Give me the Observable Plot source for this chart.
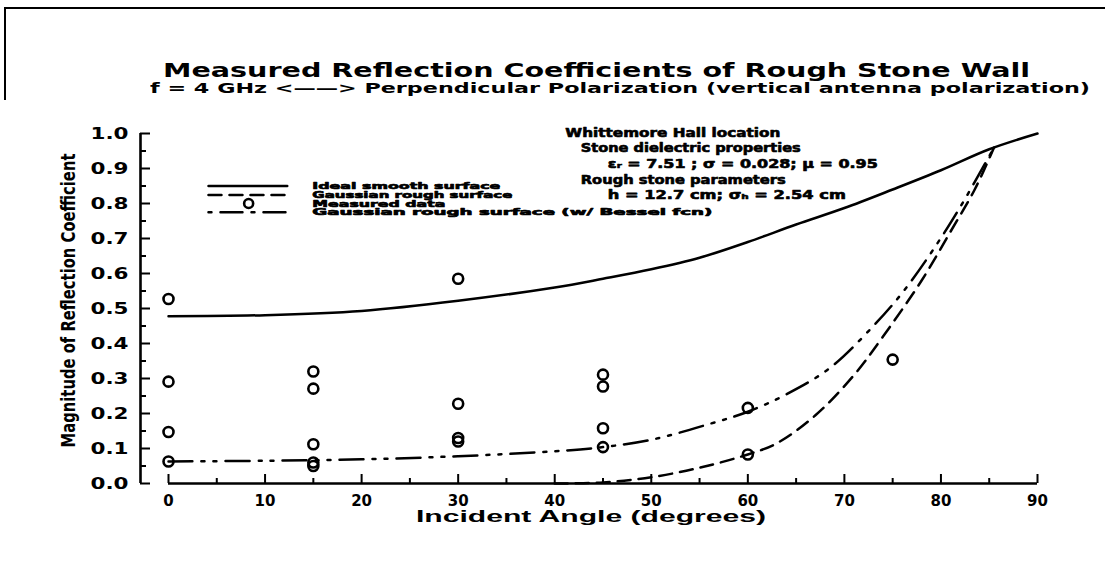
<!DOCTYPE html>
<html><head><meta charset="utf-8">
<script src="https://cdn.jsdelivr.net/npm/d3@7"></script>
<script src="https://cdn.jsdelivr.net/npm/@observablehq/plot@0.6"></script>
<style>
body{margin:0;background:#fff;}
#wrap{position:relative;width:1105px;height:563px;overflow:hidden;background:#fff;}
#frame{position:absolute;left:4px;top:7px;width:1200px;height:600px;border-left:2.5px solid #000;border-top:2.5px solid #000;}
#foot{position:absolute;left:0;top:559px;width:1105px;height:0;border-top:1px dashed #b0b0b0;}
.t{position:absolute;white-space:nowrap;font-family:"DejaVu Sans",sans-serif;font-weight:bold;color:#000;line-height:1;transform-origin:0 50%;}
#title{top:60px;font-size:20px;}
#subtitle{top:81px;font-size:14px;}
#chart{position:absolute;left:0;top:100px;}
</style></head>
<body><div id="wrap"><div id="frame"></div><div id="foot"></div>
<div id="title" class="t">Measured Reflection Coefficients of Rough Stone Wall</div>
<div id="subtitle" class="t">f = 4 GHz &lt;——&gt; Perpendicular Polarization (vertical antenna polarization)</div>
<div id="chart"></div></div>
<script>
// ---- data ----
const solidAngle = [0, 10, 20, 30, 40, 45, 50, 55, 60, 65, 70, 75, 80, 85, 90];
const solidValue = [0.478, 0.481, 0.493, 0.522, 0.56, 0.585, 0.612, 0.645, 0.69, 0.74, 0.787, 0.84, 0.895, 0.955, 1.0];

const gaussAngle = [40, 45, 50, 55, 60, 63, 67, 71, 74, 78, 81, 83.5, 85.5];
const gaussValue = [0.0, 0.003, 0.018, 0.045, 0.083, 0.115, 0.195, 0.31, 0.42, 0.58, 0.72, 0.84, 0.96];

const besselAngle = [0, 10, 20, 30, 40, 45, 50, 56, 60, 64, 68.5, 73, 76, 79, 82, 85.5];
const besselValue = [0.063, 0.065, 0.069, 0.078, 0.092, 0.104, 0.125, 0.17, 0.205, 0.255, 0.33, 0.45, 0.545, 0.66, 0.79, 0.96];

const measAngle = [0, 0, 0, 0, 15, 15, 15, 15, 15, 30, 30, 30, 30, 45, 45, 45, 45, 60, 60, 75];
const measValue = [0.527, 0.291, 0.147, 0.063, 0.32, 0.271, 0.112, 0.05, 0.06, 0.585, 0.228, 0.12, 0.13, 0.311, 0.277, 0.158, 0.104, 0.216, 0.083, 0.354];

const xTickValues = [0, 10, 20, 30, 40, 50, 60, 70, 80, 90];
const xMinorValues = [5, 15, 25, 35, 45, 55, 65, 75, 85];
const yTickValues = [0, 0.1, 0.2, 0.3, 0.4, 0.5, 0.6, 0.7, 0.8, 0.9, 1.0];
const yMinorValues = [0.05, 0.15, 0.25, 0.35, 0.45, 0.55, 0.65, 0.75, 0.85, 0.95];

const legendLabels = ["Ideal smooth surface", "Gaussian rough surface", "Measured data", "Gaussian rough surface (w/ Bessel fcn)"];
const noteLines = ["Whittemore Hall location", "Stone dielectric properties", "εᵣ = 7.51 ; σ = 0.028; μ = 0.95", "Rough stone parameters", "h = 12.7 cm; σₕ = 2.54 cm"];
const xLabel = "Incident Angle (degrees)";
const yLabel = "Magnitude of Reflection Coefficient";

// ---- tables ----
const solid = solidAngle.map((a, i) => ({angle: a, value: solidValue[i]}));
const gauss = gaussAngle.map((a, i) => ({angle: a, value: gaussValue[i]}));
const bessel = besselAngle.map((a, i) => ({angle: a, value: besselValue[i]}));
const meas = measAngle.map((a, i) => ({angle: a, value: measValue[i]}));

const X0 = -2.9; // detached y-axis position
const DASH = "13,8";
const DASHDOT = "24,9,3,9,3,9";
const legendY = [0.85, 0.824, 0.8, 0.775];
const legX1 = 4.14, legX2 = 12.3, legText = 14.9, legDot = 8.3;
const seg = (row) => [{angle: legX1, value: legendY[row]}, {angle: legX2, value: legendY[row]}];
const noteX = [41.1, 42.7, 45.5, 42.7, 45.5];
const noteY = [1.0, 0.957, 0.911, 0.866, 0.823];
const heavy = "DejaVu Sans";

const chart = Plot.plot({
  width: 1105, height: 463,
  marginLeft: 140, marginRight: 68, marginTop: 33, marginBottom: 80,
  x: {domain: [X0, 90], axis: null},
  y: {domain: [0, 1], axis: null},
  style: {background: "white", color: "black", overflow: "visible"},
  marks: [
    // axes (detached, inward ticks)
    Plot.ruleX([X0], {y1: 1, y2: 0, strokeWidth: 2.6}),
    Plot.ruleY([0], {x1: 0, x2: 90, strokeWidth: 2.6}),
    Plot.ruleY(yTickValues, {y: d => d, x1: X0, x2: 0, insetRight: 18, strokeWidth: 2}),
    Plot.ruleY(yMinorValues, {y: d => d, x1: X0, x2: 0, insetRight: 22, strokeWidth: 2}),
    Plot.ruleX(xTickValues, {x: d => d, y1: 1, y2: 0, insetTop: 341, strokeWidth: 2}),
    Plot.ruleX(xMinorValues, {x: d => d, y1: 1, y2: 0, insetTop: 345, strokeWidth: 2}),
    Plot.text(yTickValues, {x: X0, y: d => d, text: d => d.toFixed(1), dx: -12, textAnchor: "end", fontSize: 16, fontWeight: "bold", fontFamily: heavy}),
    Plot.text(xTickValues, {x: d => d, y: 0, text: d => String(d), dy: 18, fontSize: 15, fontWeight: "bold", fontFamily: heavy}),
    Plot.text([xLabel], {frameAnchor: "bottom", dy: 38, dx: 2, fontSize: 17, fontFamily: "Liberation Sans", fontWeight: "bold"}),
    Plot.text([yLabel], {frameAnchor: "left", dx: -72, dy: -8, rotate: -90, fontSize: 19, fontFamily: "Liberation Sans Narrow, DejaVu Sans Condensed, Liberation Sans", fontWeight: "bold"}),
    // curves
    Plot.line(solid, {x: "angle", y: "value", curve: "catmull-rom", strokeWidth: 2.5}),
    Plot.line(gauss, {x: "angle", y: "value", curve: "catmull-rom", strokeWidth: 2.5, strokeDasharray: DASH}),
    Plot.line(bessel, {x: "angle", y: "value", curve: "catmull-rom", strokeWidth: 2.5, strokeDasharray: DASHDOT}),
    Plot.dot(meas, {x: "angle", y: "value", r: 5, strokeWidth: 2.6, stroke: "black", fill: "none"}),
    // legend
    Plot.line(seg(0), {x: "angle", y: "value", strokeWidth: 2.5}),
    Plot.line(seg(1), {x: "angle", y: "value", strokeWidth: 2.5, strokeDasharray: DASH}),
    Plot.dot([legDot], {x: d => d, y: legendY[2], r: 4.5, strokeWidth: 2.6, stroke: "black"}),
    Plot.line(seg(3), {x: "angle", y: "value", strokeWidth: 2.5, strokeDasharray: "3,9,22,9"}),
    Plot.text(legendLabels, {x: legText, y: (d, i) => legendY[i], text: d => d, textAnchor: "start", fontSize: 9.5, fontWeight: "bold", fontFamily: heavy, fill: "black", stroke: "black", strokeWidth: 0.7}),
    // annotation
    Plot.text(noteLines, {x: (d, i) => noteX[i], y: (d, i) => noteY[i], text: d => d, textAnchor: "start", fontSize: 11.5, fontWeight: "bold", fontFamily: heavy, fill: "black", stroke: "black", strokeWidth: 0.6})
  ]
});
document.getElementById("chart").appendChild(chart);

// stretch texts to the widths they take in the reference
const fitWidths = new Map([
  [xLabel, 350], [yLabel, 294],
  [legendLabels[0], 188], [legendLabels[1], 200], [legendLabels[2], 133], [legendLabels[3], 400],
  [noteLines[0], 215], [noteLines[1], 220], [noteLines[2], 270], [noteLines[3], 205], [noteLines[4], 238]
]);
d3.select(chart).selectAll("text").each(function () {
  const t = this.textContent;
  if (fitWidths.has(t)) {
    const w = fitWidths.get(t);
    this.setAttribute("textLength", w);
    this.setAttribute("lengthAdjust", "spacingAndGlyphs");
    if (t === yLabel || t === xLabel) {
      this.setAttribute("text-anchor", "start");
      if (t === yLabel) this.setAttribute("x", -w / 2);
      else this.setAttribute("x", parseFloat(this.getAttribute("x") || 0) - w / 2);
    }
  } else if (/^\d\.\d$/.test(t)) {
    this.setAttribute("textLength", 38);
    this.setAttribute("lengthAdjust", "spacingAndGlyphs");
  }
});

function fitHtml(id, left, width) {
  const el = document.getElementById(id);
  el.style.left = left + "px";
  const w = el.getBoundingClientRect().width;
  el.style.transform = "scaleX(" + (width / w) + ")";
}
fitHtml("title", 163, 867);
fitHtml("subtitle", 150, 940);
</script>
</body></html>
